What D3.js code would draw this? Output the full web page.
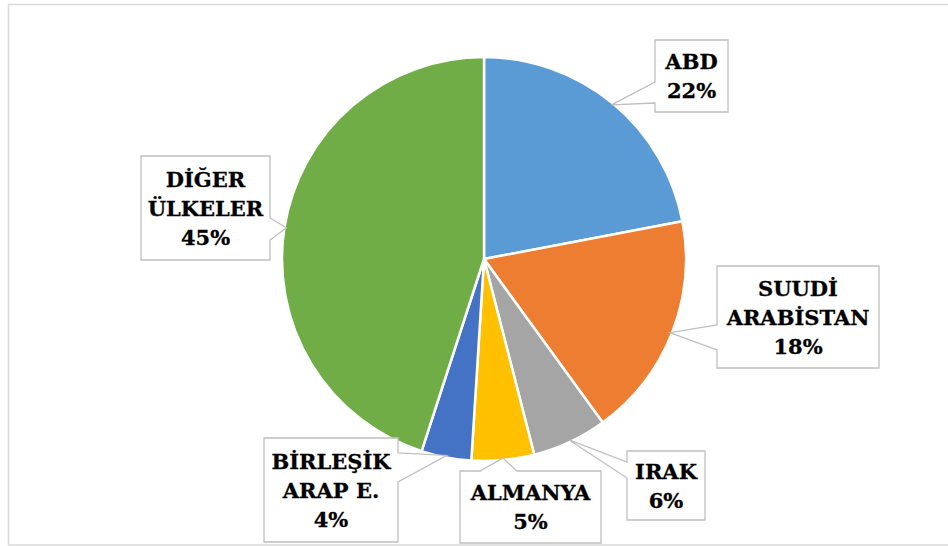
<!DOCTYPE html>
<html>
<head>
<meta charset="utf-8">
<script src="https://cdn.jsdelivr.net/npm/d3@7"></script>
<style>
  body { margin: 0; background: #fff; }
  svg { display: block; }
</style>
</head>
<body>
<svg id="chart" width="948" height="546"></svg>
<script>
// chart data
const countries = ["ABD", "SUUDİ ARABİSTAN", "IRAK", "ALMANYA", "BİRLEŞİK ARAP E.", "DİĞER ÜLKELER"];
const shares = [22, 18, 6, 5, 4, 45];
const colors = ["#5B9BD5", "#ED7D31", "#A5A5A5", "#FFC000", "#4472C4", "#70AD47"];
// label text split into lines
const labelLines = [
    ["ABD"],
    ["SUUDİ", "ARABİSTAN"],
    ["IRAK"],
    ["ALMANYA"],
    ["BİRLEŞİK", "ARAP E."],
    ["DİĞER", "ÜLKELER"]
];

// callout boxes (x, y, w, h) + which side the pointer leaves from, and its base span
const callouts = [
    { x: 655, y: 40,  w: 73,  h: 72,  side: "left",   a: 82,  b: 103 },
    { x: 717, y: 266, w: 162, h: 102, side: "left",   a: 325, b: 350 },
    { x: 627, y: 451, w: 78,  h: 69,  side: "left",   a: 462, b: 478 },
    { x: 460, y: 471, w: 141, h: 72,  side: "top",    a: 480, b: 517 },
    { x: 264, y: 438, w: 134, h: 104, side: "right",  a: 453, b: 482 },
    { x: 141, y: 156, w: 129, h: 104, side: "right",  a: 218, b: 240 }
];

const svg = d3.select("#chart");
const width = 948, height = 546;
const cx = 484, cy = 259, radius = 202;

// outer chart border
svg.append("rect")
    .attr("x", 8.5).attr("y", 4.5)
    .attr("width", 960).attr("height", 540.5)
    .attr("fill", "#fff")
    .attr("stroke", "#D9D9D9")
    .attr("stroke-width", 1.5);

const pie = d3.pie().sort(null).value(d => d);
const arcs = pie(shares);
const arc = d3.arc().innerRadius(0).outerRadius(radius);
const edge = d3.arc().innerRadius(radius - 2).outerRadius(radius - 2);

const g = svg.append("g").attr("transform", `translate(${cx},${cy})`);

g.selectAll("path")
    .data(arcs)
    .enter()
    .append("path")
    .attr("d", arc)
    .attr("fill", (d, i) => colors[i])
    .attr("stroke", "#fff")
    .attr("stroke-width", 2.5)
    .attr("stroke-linejoin", "round");

// callout shape: box with a wedge pointing to the slice edge
function calloutPath(c, tip) {
    const x0 = c.x, y0 = c.y, x1 = c.x + c.w, y1 = c.y + c.h;
    const p = d3.path();
    if (c.side === "left") {
        p.moveTo(x0, y0); p.lineTo(x1, y0); p.lineTo(x1, y1); p.lineTo(x0, y1);
        p.lineTo(x0, c.b); p.lineTo(tip[0], tip[1]); p.lineTo(x0, c.a);
    } else if (c.side === "right") {
        p.moveTo(x0, y0); p.lineTo(x1, y0); p.lineTo(x1, c.a);
        p.lineTo(tip[0], tip[1]); p.lineTo(x1, c.b);
        p.lineTo(x1, y1); p.lineTo(x0, y1);
    } else { // top
        p.moveTo(x0, y0); p.lineTo(c.a, y0); p.lineTo(tip[0], tip[1]); p.lineTo(c.b, y0);
        p.lineTo(x1, y0); p.lineTo(x1, y1); p.lineTo(x0, y1);
    }
    p.closePath();
    return p.toString();
}

const labels = svg.selectAll("g.label")
    .data(arcs)
    .enter()
    .append("g")
    .attr("class", "label");

labels.append("path")
    .attr("d", (d, i) => {
        const t = edge.centroid(d);
        return calloutPath(callouts[i], [t[0] + cx, t[1] + cy]);
    })
    .attr("fill", "#fff")
    .attr("stroke", "#BFBFBF")
    .attr("stroke-width", 1.3);

const lineH = 29;
labels.append("text")
    .attr("text-anchor", "middle")
    .attr("font-family", "'DejaVu Serif', serif")
    .attr("font-weight", "bold")
    .attr("font-size", "21px")
    .attr("fill", "#000")
    .attr("stroke", "#000")
    .attr("stroke-width", 0.3)
    .each(function(d, i) {
        const c = callouts[i];
        const lines = labelLines[i].concat([shares[i] + "%"]);
        const top = c.y + c.h / 2 - (lines.length * lineH) / 2;
        const t = d3.select(this);
        lines.forEach((s, k) => {
            t.append("tspan")
                .attr("x", c.x + c.w / 2)
                .attr("y", top + k * lineH + 22)
                .text(s);
        });
    });
</script>
</body>
</html>
